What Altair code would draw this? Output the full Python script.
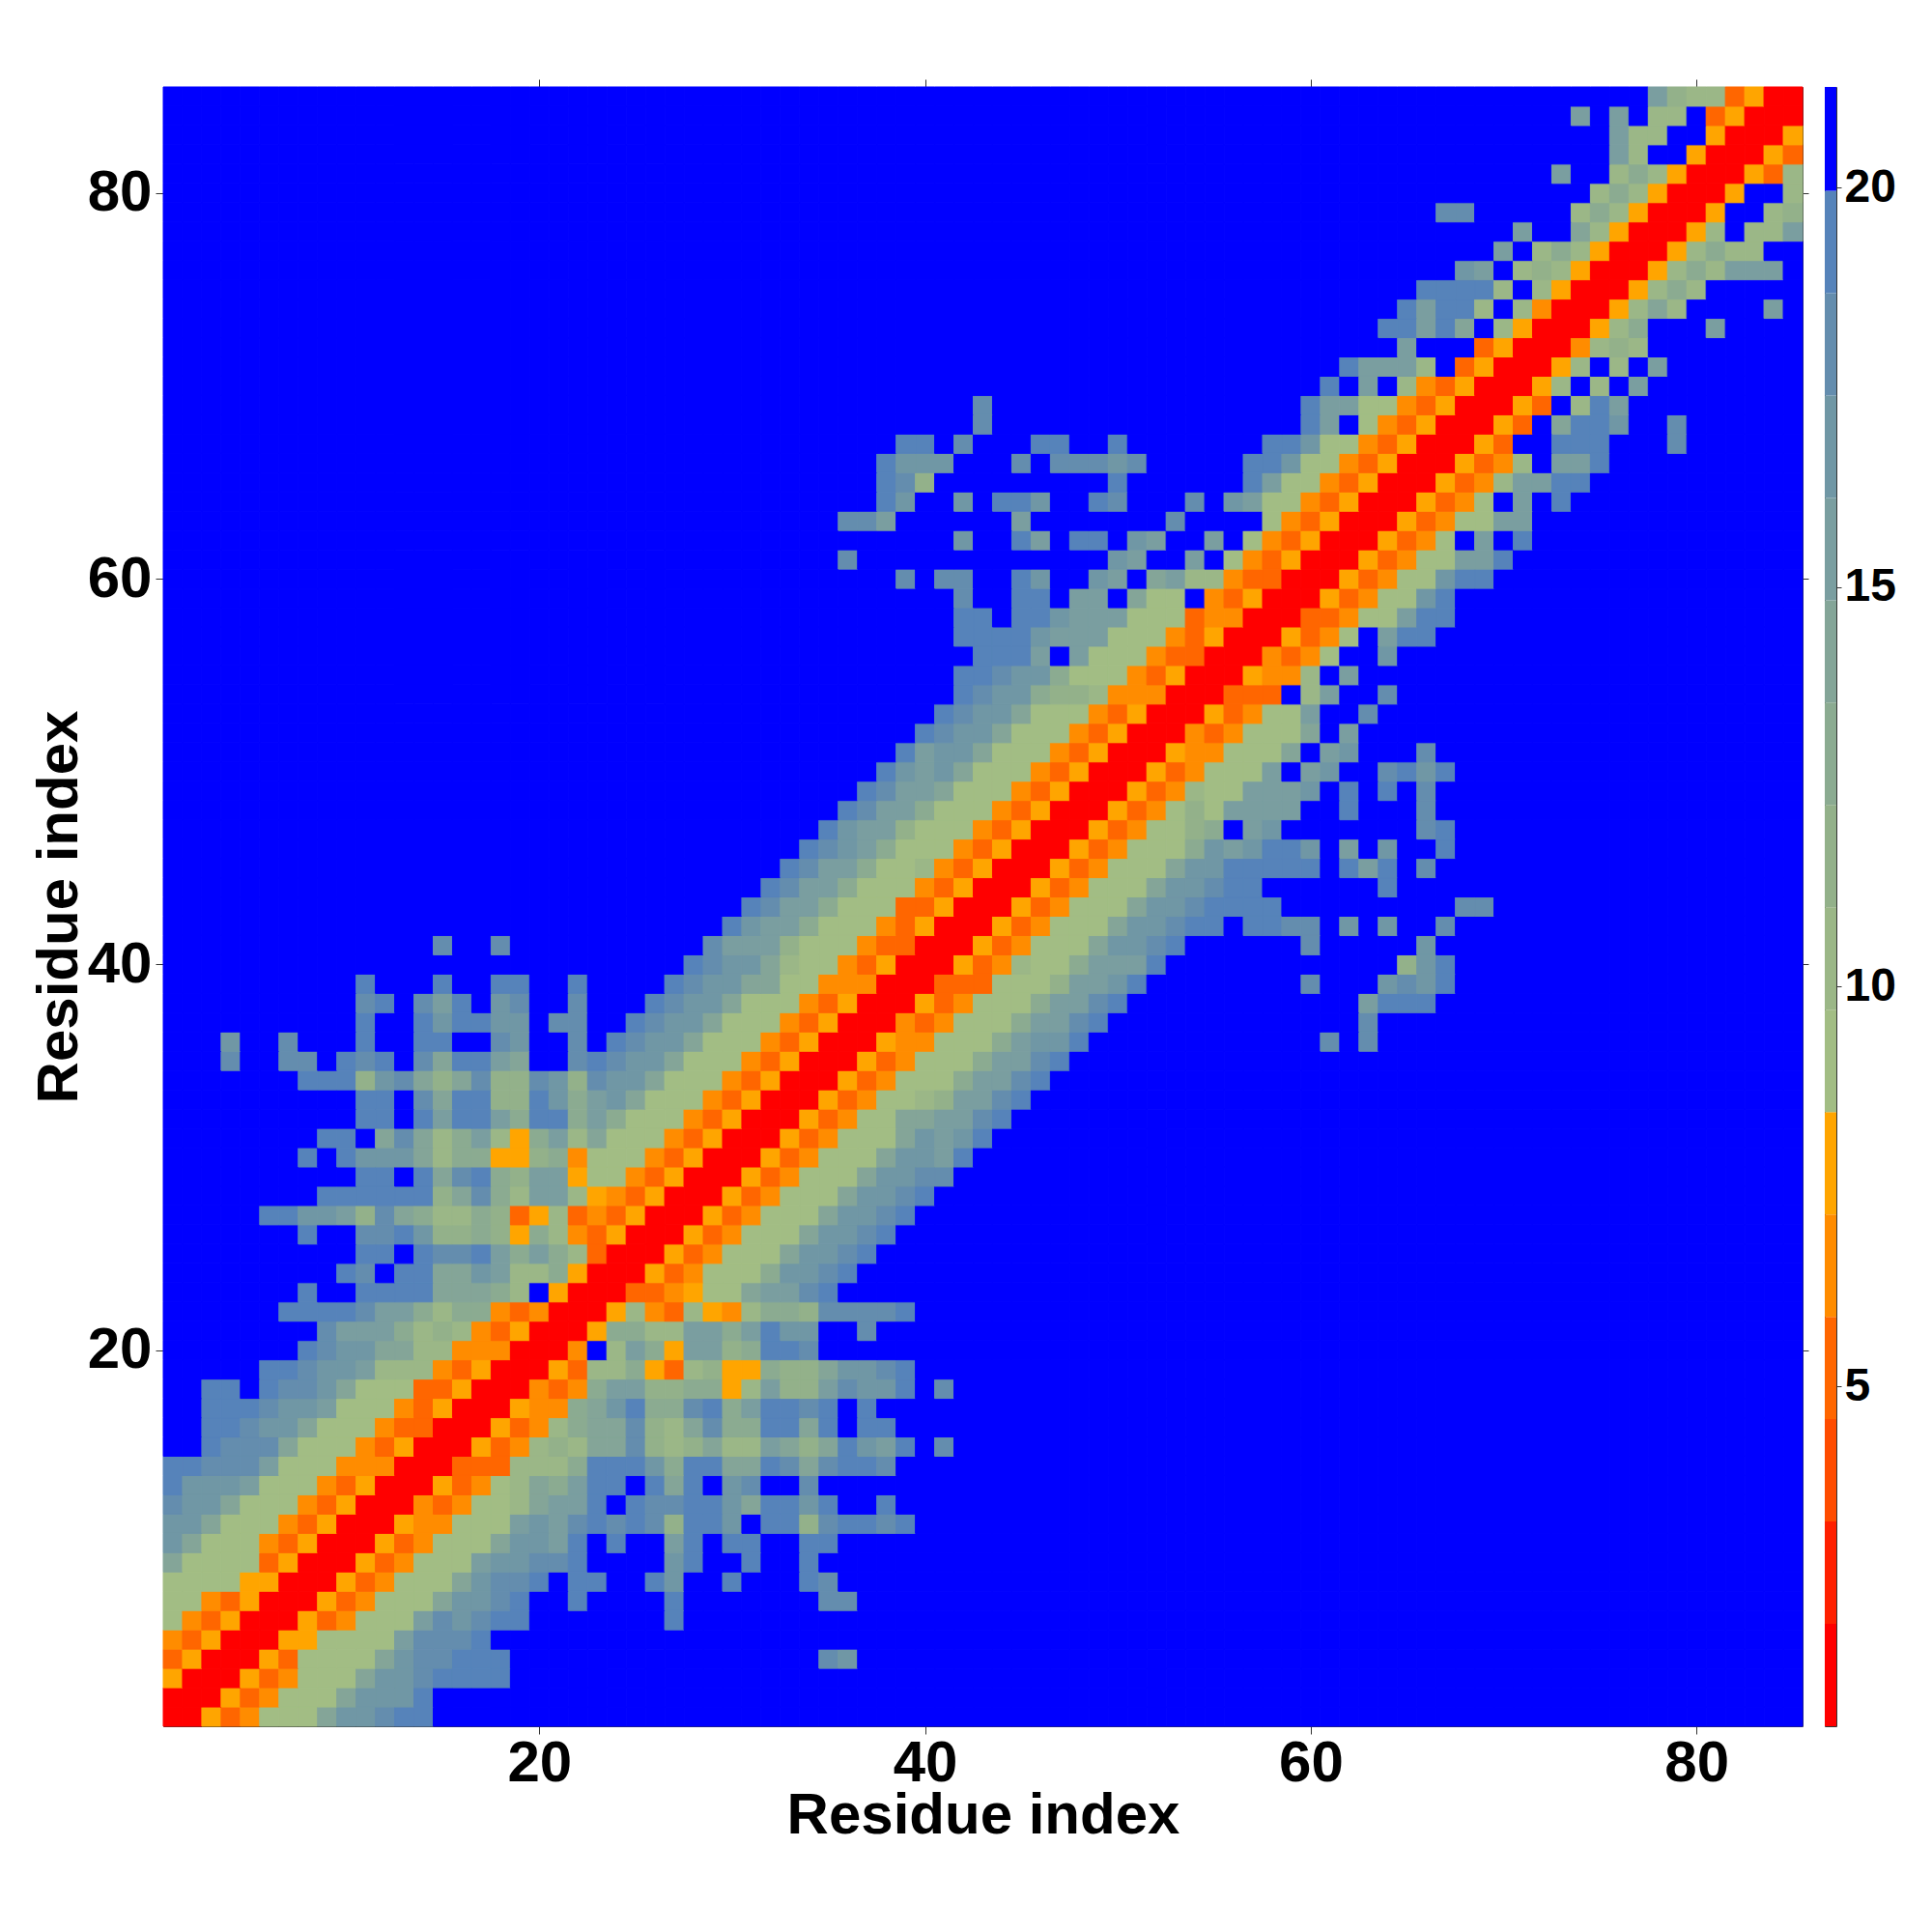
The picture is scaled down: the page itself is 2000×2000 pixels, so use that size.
import altair as alt
import pandas as pd

RESIDUES = list(range(1, 86))

# Lower-left half of the symmetric map, one entry per y (85 down to 1).
# "x:cells" = first residue x of a run, then one level code per residue; other cells are level g.
ROW_Y = list(range(85, 0, -1))
ROW_CELLS = [
    "78:c9884611", "74:cgcg88g4611", "76:c88gg611", "76:c8gg611", "73:cgg8a8611",
    "75:8a8611", "67:eeggggg8a8611", "71:cggb8611", "70:cg8a8611", "68:dcg898611",
    "66:ffff8g8611", "65:fcff8g8511", "64:ffcfbg8611", "65:cggg4611", "62:fccc8g4611",
    "61:fgcg854611", "43:e 60:fcc7754611", "43:e 60:fcg754611",
    "39:ffge 46:ff 50:f 58:ffd7754611", "38:fddd 45:e 47:eeede 57:ffd7754611",
    "38:fe9 50:f 57:fc7754611", "38:fd 42:d 44:ffd 49:fe 54:e 56:dc7754611",
    "36:eec 45:c 53:e 58:754611", "42:d 45:fc 48:ff 51:dc 55:c 57:754611",
    "36:e 50:dc 54:c 56:754611", "39:egeeggfdggdcgbc8854411", "42:eggffgccgb77g54611",
    "42:ffgffdccc77745511", "42:ffffdccc77754611", "43:fffcgc77754411",
    "42:ffedda77754611", "42:fedda99855511", "41:feddb77754611", "40:feddb77754611",
    "39:fcddb77754611", "38:fdcdb77754611", "37:feccb77754611", "36:fecca77754611",
    "35:fdcc977754611", "34:fedca77754611", "33:fecca77854611", "32:fecca77754611",
    "31:fecca77744611", "30:fdcca77754611", "15:e 18:e 29:eccc977754411",
    "28:feddb87754611", "11:f 15:f 18:ff 22:f 27:feddbb7755511",
    "11:ef 14:ecf 18:de 22:e 26:feddb77754611", "11:f 14:fdffdd 21:ee 25:feddb77754611",
    "4:d 7:e 11:f 14:ff 18:ed 22:e 24:feddb77754611",
    "4:e 7:ee 10:fef 14:ebffcb 22:efeddb77754611", "8:fff9deb9be99ed9eddb77754611",
    "11:ff 14:ebff99fdacdb77754611", "11:ff 14:fcffcaffaca77754611",
    "9:ffgbeb8ac86ac8b77754611", "8:f 10:fdddb8aa669a577754611",
    "11:ffgfbefa9cc67754611", "9:ffffff9bea8cc8654611", "6:ffddc9eba88a9468454611",
    "8:f 11:eefd99a96a854611", "11:ffgfeefcaca8411", "10:fegffbbdc88a611",
    "8:f 11:ffffbbba8g611", "7:ffffecca8aa54511", "9:eccca89854611", "8:feddbb8855511",
    "6:ffeddc88854611", "3:ff 6:feedb77744611", "3:fffeddc77754611", "3:ffeddb77754411",
    "3:feeeb77754611", "1:ffeeec77755511", "1:fdddc77754611", "1:eddb77754611",
    "1:ddb77754611", "1:db77754611", "1:b77774611", "1:77776611", "1:7754611",
    "1:754611", "1:54611", "1:4611", "1:611", "1:11", "1:1",
]

LEVELS = list("123456789abcdefg")
LEVEL_COLORS = [
    "#ff0000", "#ff2000", "#ff4c00", "#ff6600", "#ff8c00", "#ffa500",
    "#a2bd84", "#9bb787", "#93b18a", "#8bab91", "#84a598", "#7a9ea0",
    "#7097a5", "#648dae", "#5683ba", "#0000ff",
]
BOUNDS_LOW = [0.745, 2.026, 3.307, 4.588, 5.869, 7.15, 8.431, 9.712,
              10.993, 12.274, 13.555, 14.836, 16.117, 17.398, 18.679, 19.96]
BOUNDS_HIGH = BOUNDS_LOW[1:] + [21.26]
X_TICKS = [20, 40, 60, 80]
BAR_TICKS = [5, 10, 15, 20]
AXIS_TITLE = "Residue index"

grid = {}
for y, spec in zip(ROW_Y, ROW_CELLS):
    for run in spec.split():
        start, cells = run.split(":")
        for offset, level in enumerate(cells):
            x = int(start) + offset
            grid[(x, y)] = level
            grid[(y, x)] = level

rows = []
for y in RESIDUES:
    for x in RESIDUES:
        rows.append({"x0": x - 0.5, "x1": x + 0.5, "y0": y - 0.5, "y1": y + 0.5,
                     "level": grid.get((x, y), "g")})
cells_df = pd.DataFrame(rows)

FONT = "Liberation Sans"
SIZE = 1697
dom = [0.5, 85.5]
color = alt.Color("level:N", scale=alt.Scale(domain=LEVELS, range=LEVEL_COLORS), legend=None)
stroke = alt.Stroke("level:N", scale=alt.Scale(domain=LEVELS, range=LEVEL_COLORS), legend=None)

heat = alt.Chart(cells_df).mark_rect(strokeWidth=1).encode(
    x=alt.X("x0:Q", scale=alt.Scale(domain=dom, nice=False, zero=False),
            axis=alt.Axis(values=X_TICKS, title=AXIS_TITLE, grid=False, domain=False,
                          tickSize=8, tickColor="#333333", tickWidth=1,
                          labelFont=FONT, labelFontWeight="bold", labelFontSize=60,
                          labelColor="#000000", labelPadding=1, titleFont=FONT,
                          titleFontWeight="bold", titleFontSize=60, titleColor="#000000",
                          titlePadding=-5)),
    x2="x1:Q",
    y=alt.Y("y0:Q", scale=alt.Scale(domain=dom, nice=False, zero=False),
            axis=alt.Axis(values=X_TICKS, title=AXIS_TITLE, grid=False, domain=False,
                          tickSize=8, tickColor="#333333", tickWidth=1,
                          labelFont=FONT, labelFontWeight="bold", labelFontSize=60,
                          labelColor="#000000", labelPadding=4, titleFont=FONT,
                          titleFontWeight="bold", titleFontSize=60, titleColor="#000000",
                          titlePadding=-2)),
    y2="y1:Q",
    color=color,
    stroke=stroke,
)

frame = alt.Chart(pd.DataFrame({"x": [X_TICKS[0]], "y": [X_TICKS[0]]})).mark_point(opacity=0).encode(
    x=alt.X("x:Q", scale=alt.Scale(domain=dom, nice=False, zero=False),
            axis=alt.Axis(orient="top", values=X_TICKS, title=None, labels=False, grid=False,
                          domain=False, tickSize=8, tickColor="#333333", tickWidth=1)),
    y=alt.Y("y:Q", scale=alt.Scale(domain=dom, nice=False, zero=False),
            axis=alt.Axis(orient="right", values=X_TICKS, title=None, labels=False, grid=False,
                          domain=False, tickSize=6, tickColor="#333333", tickWidth=1)),
)

main = alt.layer(heat, frame).resolve_scale(x="independent", y="independent").properties(
    width=SIZE, height=SIZE)

bar_df = pd.DataFrame({"low": BOUNDS_LOW, "high": BOUNDS_HIGH, "level": LEVELS})
bar = alt.Chart(bar_df).mark_rect().encode(
    y=alt.Y("low:Q", scale=alt.Scale(domain=[BOUNDS_LOW[0], BOUNDS_HIGH[-1]], nice=False, zero=False),
            axis=alt.Axis(orient="right", values=BAR_TICKS, title=None, grid=False, domain=False,
                          tickSize=5, tickColor="#333333", tickWidth=1, labelFont=FONT,
                          labelFontWeight="bold", labelFontSize=48, labelColor="#000000",
                          labelPadding=3)),
    y2="high:Q",
    color=color,
).properties(width=12, height=SIZE)

chart = alt.hconcat(main, bar, spacing=15).properties(
    padding={"left": 22, "top": 73, "right": 0, "bottom": 5},
    background="white",
).configure_view(stroke="#333333", strokeWidth=1).configure_concat(spacing=15)

chart.save("out.html", embed_options={"renderer": "svg", "actions": False})
